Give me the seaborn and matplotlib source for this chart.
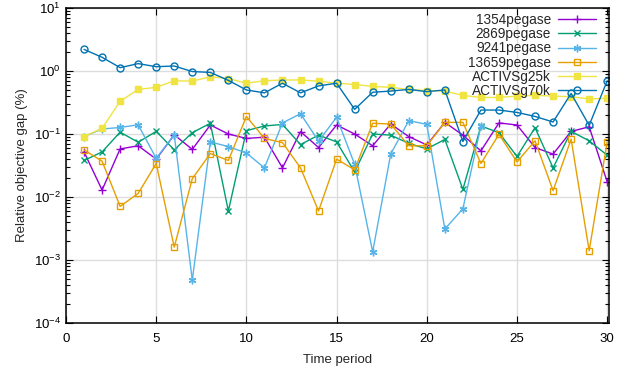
#!/usr/bin/env python3

import matplotlib

matplotlib.use("Agg")
import matplotlib.pyplot as plt
import numpy as np
import pandas as pd
import seaborn as sns
from matplotlib.ticker import LogLocator, NullFormatter

nan = np.nan

periods = list(range(1, 31))

pegase_1354 = [0.052, 0.0129, 0.058, 0.065, 0.040, 0.097, 0.057, 0.139, 0.10, 0.085,
               0.089, 0.029, 0.109, 0.061, 0.139, 0.10, 0.065, 0.144, 0.091, 0.067,
               0.153, 0.096, 0.054, 0.15, 0.139, 0.061, 0.048, 0.11, 0.13, 0.0174]
pegase_2869 = [0.038, 0.052, 0.107, 0.074, 0.11, 0.056, 0.105, 0.148, 0.006, 0.113,
               0.134, 0.142, 0.068, 0.096, 0.075, 0.025, 0.10, 0.096, 0.071, 0.058,
               0.082, 0.0132, 0.134, 0.105, 0.044, 0.126, 0.029, 0.11, 0.078, 0.046]
pegase_9241 = [0.091, 0.12, 0.127, 0.14, 0.041, 0.097, 0.00048, 0.075, 0.063, 0.05,
               0.029, 0.15, 0.21, 0.077, 0.184, 0.033, 0.00135, 0.048, 0.163, 0.142,
               0.0031, 0.0065, 0.134, nan, nan, nan, nan, nan, nan, nan]
pegase_13659 = [0.056, 0.037, 0.0071, 0.0114, 0.034, 0.0016, 0.0195, 0.049, 0.038, 0.19,
                0.085, 0.073, 0.029, 0.006, 0.040, 0.027, 0.148, 0.144, 0.065, 0.065,
                0.153, 0.153, 0.034, 0.099, 0.036, 0.078, 0.0126, 0.083, 0.0014, 0.075]
activsg_25k = [0.091, 0.123, 0.33, 0.51, 0.55, 0.70, 0.69, 0.81, 0.76, 0.64,
               0.70, 0.72, 0.72, 0.69, 0.64, 0.61, 0.57, 0.55, 0.51, 0.49,
               0.48, 0.41, 0.38, 0.38, 0.40, 0.41, 0.40, 0.39, 0.36, 0.37]
activsg_70k = [2.2, 1.65, 1.13, 1.31, 1.17, 1.2, 0.98, 0.95, 0.71, 0.50,
               0.45, 0.64, 0.45, 0.58, 0.64, 0.246, 0.46, 0.48, 0.51, 0.47,
               0.50, 0.076, 0.24, 0.24, 0.22, 0.19, 0.155, 0.44, 0.137, 0.70]

series = {
    "1354pegase": pegase_1354,
    "2869pegase": pegase_2869,
    "9241pegase": pegase_9241,
    "13659pegase": pegase_13659,
    "ACTIVSg25k": activsg_25k,
    "ACTIVSg70k": activsg_70k,
}

# gnuplot-like point types
styles = {
    "1354pegase": dict(color="#9400d3", marker="+", ms=5.5, mew=1.0),
    "2869pegase": dict(color="#009e73", marker="x", ms=4.5, mew=1.0),
    "9241pegase": dict(color="#56b4e9", marker=(6, 2, 0), ms=5.5, mew=1.0),
    "13659pegase": dict(color="#e69f00", marker="s", ms=5, mew=1.0, mfc="none"),
    "ACTIVSg25k": dict(color="#f0e442", marker="s", ms=5, mew=1.0),
    "ACTIVSg70k": dict(color="#0072b2", marker="o", ms=5, mew=1.0, mfc="none"),
}

sns.set_style("ticks")
plt.rcParams["font.family"] = ["Liberation Sans", "DejaVu Sans"]
plt.rcParams["mathtext.fontset"] = "custom"
plt.rcParams["mathtext.rm"] = "Liberation Sans"

fig = plt.figure(figsize=(6.27, 3.70), dpi=100)
ax = fig.add_axes([66 / 627, 1 - 323 / 370, 543 / 627, 315 / 370])

for name, values in series.items():
    df = pd.DataFrame({"period": periods, "gap": values}).dropna()
    st = styles[name]
    sns.lineplot(
        data=df, x="period", y="gap", ax=ax, label=name,
        color=st["color"], marker=st["marker"], markersize=st["ms"],
        markeredgewidth=st["mew"], markeredgecolor=st["color"],
        markerfacecolor=st.get("mfc", st["color"]), linewidth=1.0,
    )

ax.set_yscale("log")
ax.set_ylim(1e-4, 10)
ax.set_xlim(0, 30.1)
ax.set_xticks(range(0, 31, 5))
ax.yaxis.set_major_locator(LogLocator(base=10, numticks=10))
ax.yaxis.set_minor_locator(LogLocator(base=10, subs=np.arange(2, 10), numticks=10))
ax.yaxis.set_minor_formatter(NullFormatter())
ax.grid(True, which="major", color="#dddddd", linewidth=1.0)
ax.set_axisbelow(True)
ax.tick_params(which="both", direction="in", top=True, right=True, labelsize=9.5, colors="black")
ax.tick_params(which="major", length=5, width=0.8)
ax.tick_params(which="minor", length=3, width=0.8)
ax.tick_params(axis="x", pad=7)
for sp in ax.spines.values():
    sp.set_linewidth(1.1)
    sp.set_color("black")

ax.set_xlabel("Time period", fontsize=9.5, labelpad=7)
ax.set_ylabel("Relative objective gap (%)", fontsize=9.5)

leg = ax.legend(
    loc="upper right", bbox_to_anchor=(0.976, 0.985), frameon=False,
    markerfirst=False, fontsize=9.8, labelspacing=0.02, handlelength=2.8,
    handletextpad=0.5, borderpad=0, borderaxespad=0,
)
leg._legend_box.align = "right"

fig.savefig("out.png", dpi=100)
